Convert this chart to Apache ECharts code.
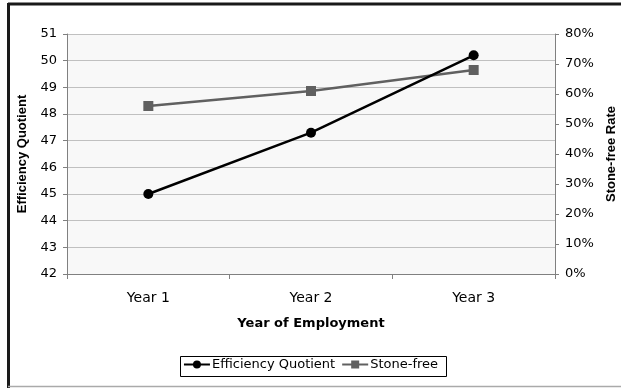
<!DOCTYPE html>
<html>
<head>
<meta charset="utf-8">
<script src="https://cdn.jsdelivr.net/npm/echarts@6/dist/echarts.min.js"></script>
<style>
  html, body { margin: 0; padding: 0; background: #fff; }
  #chart { width: 621px; height: 388px; }
</style>
</head>
<body>
<div id="chart"></div>
<script>
// Category labels and series values
const years = ['Year 1', 'Year 2', 'Year 3'];
const efficiencyQuotient = [45.0, 47.3, 50.2];
const stoneFreeRate = [56, 61, 68]; // percent

const FONT = 'DejaVu Sans, sans-serif';
const NAME_FONT = 'Liberation Sans, Arial, sans-serif';

const chart = echarts.init(document.getElementById('chart'), null, { renderer: 'canvas' });

chart.setOption({
  animation: false,
  backgroundColor: '#ffffff',
  textStyle: { fontFamily: FONT },
  graphic: [
    // outer frame: heavy top/left edges, light bottom edge
    { type: 'line', shape: { x1: 8, y1: 4, x2: 621, y2: 4 }, style: { stroke: '#1a1a1a', lineWidth: 3 } },
    { type: 'line', shape: { x1: 8.5, y1: 3, x2: 8.5, y2: 388 }, style: { stroke: '#1a1a1a', lineWidth: 3 } },
    { type: 'line', shape: { x1: 8, y1: 386.5, x2: 621, y2: 386.5 }, style: { stroke: '#aaaaaa', lineWidth: 1.5 } },
    // legend box
    { type: 'rect', shape: { x: 180.5, y: 356.5, width: 266, height: 20 }, style: { fill: '#fff', stroke: '#000', lineWidth: 1 }, z: -1 }
  ],
  grid: {
    left: 67, right: 66, top: 34, bottom: 114,
    containLabel: false,
    outerBoundsMode: 'none',
    show: true, backgroundColor: '#f8f8f8', borderWidth: 0
  },
  legend: {
    top: 358, left: 'center',
    padding: 0,
    itemGap: 6, itemWidth: 26, itemHeight: 10,
    textStyle: { fontFamily: FONT, fontSize: 13, color: '#000', padding: [0, 0, 0, -3] },
    data: ['Efficiency Quotient', 'Stone-free']
  },
  xAxis: {
    type: 'category',
    data: years,
    boundaryGap: true,
    name: 'Year of Employment',
    nameLocation: 'middle',
    nameGap: 43,
    nameTextStyle: { fontFamily: FONT, fontSize: 13, fontWeight: 'bold', color: '#000' },
    axisLine: { lineStyle: { color: '#808080', width: 1 } },
    axisTick: { show: true, length: 5, lineStyle: { color: '#808080' } },
    axisLabel: { margin: 17, fontFamily: FONT, fontSize: 14, color: '#000' },
    splitLine: { show: false }
  },
  yAxis: [
    {
      type: 'value',
      min: 42, max: 51, interval: 1,
      name: 'Efficiency Quotient',
      nameLocation: 'middle',
      nameGap: 38,
      nameRotate: 90,
      nameTextStyle: { fontFamily: NAME_FONT, fontSize: 13, fontWeight: 'bold', color: '#000' },
      axisLine: { show: true, lineStyle: { color: '#808080', width: 1 } },
      axisTick: { show: true, length: 4, lineStyle: { color: '#808080' } },
      axisLabel: { margin: 10, fontFamily: FONT, fontSize: 13, color: '#000' },
      splitLine: { show: true, lineStyle: { color: '#c0c0c0', width: 1 } }
    },
    {
      type: 'value',
      min: 0, max: 80, interval: 10,
      position: 'right',
      name: 'Stone-free Rate',
      nameLocation: 'middle',
      nameGap: 48,
      nameRotate: 90,
      nameTextStyle: { fontFamily: NAME_FONT, fontSize: 13, fontWeight: 'bold', color: '#000' },
      axisLine: { show: true, lineStyle: { color: '#808080', width: 1 } },
      axisTick: { show: true, length: 4, lineStyle: { color: '#808080' } },
      axisLabel: { margin: 10, fontFamily: FONT, fontSize: 13, color: '#000', formatter: '{value}%' },
      splitLine: { show: false }
    }
  ],
  series: [
    {
      name: 'Efficiency Quotient',
      type: 'line',
      yAxisIndex: 0,
      data: efficiencyQuotient,
      symbol: 'circle',
      symbolSize: 10,
      lineStyle: { color: '#000', width: 2.5 },
      itemStyle: { color: '#000' },
      z: 3
    },
    {
      name: 'Stone-free',
      type: 'line',
      yAxisIndex: 1,
      data: stoneFreeRate,
      symbol: 'rect',
      symbolSize: 10,
      lineStyle: { color: '#606060', width: 2.5 },
      itemStyle: { color: '#606060' },
      z: 2
    }
  ]
});
</script>
</body>
</html>
